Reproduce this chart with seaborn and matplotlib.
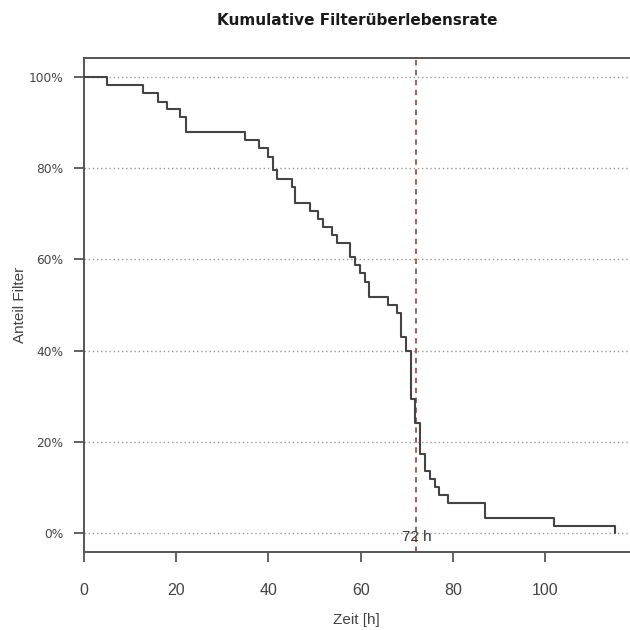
import matplotlib
matplotlib.use("Agg")
import matplotlib.pyplot as plt
import seaborn as sns
import pandas as pd

# Filter survival (Kaplan-Meier style step curve)
zeit_h = [0, 5.0, 12.9, 16.0, 18.0, 20.8, 22.1, 34.9, 38.0, 39.9, 41.0, 41.9,
          45.0, 45.8, 49.0, 50.8, 51.9, 53.7, 54.9, 57.6, 58.7, 59.8, 60.9,
          61.8, 65.8, 67.9, 68.8, 69.8, 70.8, 71.8, 72.9, 73.9, 75.0, 76.0,
          77.0, 78.9, 86.9, 101.9, 115.0]
anteil_pct = [100, 98.2, 96.4, 94.6, 92.9, 91.3, 88.0, 86.2, 84.4, 82.5, 79.6,
              77.6, 75.9, 72.4, 70.7, 68.8, 67.0, 65.4, 63.5, 60.6, 58.8, 57.0,
              55.1, 51.7, 50.0, 48.2, 42.9, 39.8, 29.3, 24.1, 17.3, 13.7, 11.8,
              10.0, 8.3, 6.5, 3.2, 1.5, 0.0]

x_ticks = [0, 20, 40, 60, 80, 100]
y_ticks = [0, 20, 40, 60, 80, 100]
y_tick_labels = ["0%", "20%", "40%", "60%", "80%", "100%"]
marker_time = 72
marker_label = "72 h"

sns.set_style("white")
plt.rcParams["font.family"] = ["DejaVu Sans"]

df = pd.DataFrame({"Zeit": zeit_h, "Anteil": anteil_pct})

fig = plt.figure(figsize=(6.3, 6.3), dpi=100)
ax = fig.add_axes([0.1329, 0.1243, 0.8671, 0.7832])

# horizontal dotted grid
for yv in y_ticks:
    ax.axhline(yv, color="#9a9a9a", lw=1.0, ls=(0, (1, 2)), zorder=1)

sns.lineplot(data=df, x="Zeit", y="Anteil", drawstyle="steps-post",
             color="#444444", lw=1.5, ax=ax, zorder=3, sort=False)

ax.axvline(marker_time, color="#a0504f", lw=1.3, ls=(0, (3, 2.5)), zorder=2)
ax.text(marker_time + 0.2, -0.8, marker_label, ha="center", va="center",
        fontsize=11, color="#333333", family="Liberation Sans", zorder=4)

ax.set_xlim(0, 118.3)
ax.set_ylim(-4.1, 104.1)

ax.set_xticks(x_ticks)
ax.set_xticklabels([str(v) for v in x_ticks], family="Liberation Sans",
                   fontsize=11.5, color="#444444")
ax.set_yticks(y_ticks)
ax.set_yticklabels(y_tick_labels, fontsize=8.8, color="#444444")

ax.tick_params(axis="x", direction="out", length=7.5, width=1.3,
               color="#555555", pad=15, bottom=True)
ax.tick_params(axis="y", direction="out", length=7.5, width=1.3,
               color="#555555", pad=7, left=True)

for side in ["left", "bottom", "top"]:
    ax.spines[side].set_visible(True)
    ax.spines[side].set_color("#555555")
    ax.spines[side].set_linewidth(1.4)
ax.spines["right"].set_visible(False)

ax.set_xlabel("Zeit [h]", family="Liberation Sans", fontsize=11,
              color="#444444", labelpad=11)
ax.set_ylabel("Anteil Filter", family="Liberation Sans", fontsize=11,
              color="#444444", labelpad=1)
ax.set_title("Kumulative Filterüberlebensrate", fontsize=11, weight="bold",
             color="#1a1a1a", pad=24)

fig.savefig("out.png", dpi=100)
